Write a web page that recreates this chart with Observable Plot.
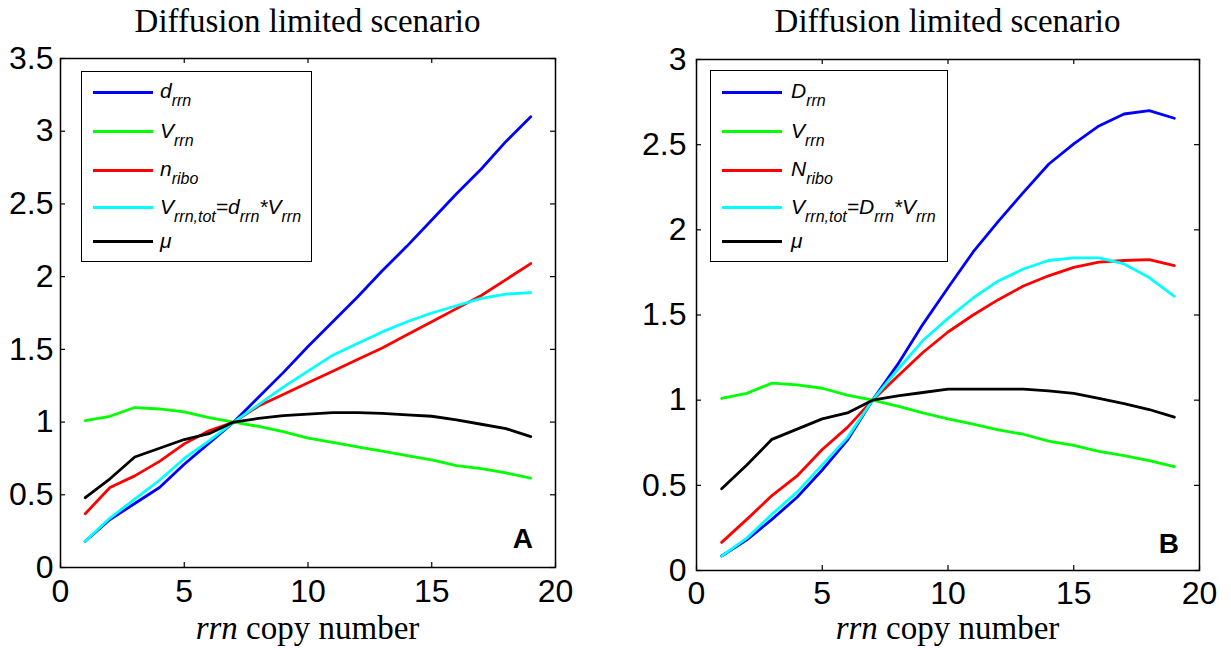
<!DOCTYPE html>
<html>
<head>
<meta charset="utf-8">
<script src="https://cdn.jsdelivr.net/npm/d3@7"></script>
<script src="https://cdn.jsdelivr.net/npm/@observablehq/plot@0.6"></script>
<style>
  body { margin: 0; background: #fff; }
  #fig { position: relative; width: 1231px; height: 650px; overflow: hidden; background: #fff; }
  .panel { position: absolute; top: 0; }
  .title, .xlabel {
    position: absolute; text-align: center; color: #000; white-space: nowrap;
    font-family: "Liberation Serif", "Times New Roman", serif; font-size: 33px; line-height: 33px;
  }
  .legend { position: absolute; border: 1.5px solid #000; background: #fff; box-sizing: border-box; }
  .swatch { position: absolute; height: 0; border-top: 3px solid; }
  .entry {
    position: absolute; white-space: nowrap; color: #000;
    font-family: "Liberation Sans", Arial, sans-serif; font-style: italic; font-size: 21px; line-height: 21px;
  }
  .entry .sub { font-size: 16px; vertical-align: -8px; line-height: 0; }
  .tag {
    position: absolute; color: #000;
    font-family: "Liberation Sans", Arial, sans-serif; font-weight: bold; font-size: 28px; line-height: 28px;
  }
</style>
</head>
<body>
<div id="fig"></div>
<script>
// rrn copy number (x) shared by both panels
const copyNumber = [1, 2, 3, 4, 5, 6, 7, 8, 9, 10, 11, 12, 13, 14, 15, 16, 17, 18, 19];
const xTicks = [0, 5, 10, 15, 20];

// Panel A series
const dRrnA  = [0.18, 0.33, 0.44, 0.55, 0.71, 0.855, 1.0, 1.17, 1.34, 1.52, 1.69, 1.86, 2.04, 2.21, 2.39, 2.57, 2.74, 2.93, 3.10];
const vRrnA  = [1.01, 1.04, 1.10, 1.09, 1.07, 1.03, 1.0, 0.97, 0.935, 0.89, 0.86, 0.83, 0.80, 0.77, 0.74, 0.70, 0.68, 0.65, 0.615];
const nRiboA = [0.37, 0.55, 0.63, 0.73, 0.85, 0.94, 1.0, 1.11, 1.19, 1.27, 1.35, 1.43, 1.51, 1.60, 1.69, 1.78, 1.87, 1.98, 2.09];
const vTotA  = [0.18, 0.34, 0.47, 0.60, 0.75, 0.87, 1.0, 1.12, 1.24, 1.35, 1.46, 1.54, 1.62, 1.69, 1.75, 1.80, 1.85, 1.88, 1.89];
const muA    = [0.48, 0.61, 0.76, 0.82, 0.88, 0.92, 1.0, 1.025, 1.045, 1.055, 1.065, 1.065, 1.06, 1.05, 1.04, 1.015, 0.985, 0.955, 0.90];
const yTicksA = [0, 0.5, 1, 1.5, 2, 2.5, 3, 3.5];

// Panel B series
const dRrnB  = [0.085, 0.18, 0.30, 0.43, 0.59, 0.765, 1.0, 1.21, 1.445, 1.66, 1.87, 2.05, 2.22, 2.385, 2.505, 2.61, 2.68, 2.70, 2.655];
const vRrnB  = [1.01, 1.04, 1.10, 1.09, 1.07, 1.03, 1.0, 0.965, 0.925, 0.89, 0.86, 0.825, 0.80, 0.76, 0.735, 0.70, 0.675, 0.645, 0.61];
const nRiboB = [0.165, 0.30, 0.44, 0.555, 0.71, 0.84, 1.0, 1.14, 1.28, 1.40, 1.50, 1.59, 1.67, 1.73, 1.78, 1.81, 1.82, 1.825, 1.79];
const vTotB  = [0.085, 0.19, 0.33, 0.46, 0.62, 0.78, 1.0, 1.18, 1.35, 1.48, 1.60, 1.70, 1.77, 1.82, 1.835, 1.835, 1.80, 1.72, 1.61];
const muB    = [0.48, 0.62, 0.77, 0.83, 0.89, 0.925, 1.0, 1.025, 1.045, 1.065, 1.065, 1.065, 1.065, 1.055, 1.04, 1.01, 0.98, 0.945, 0.90];
const yTicksB = [0, 0.5, 1, 1.5, 2, 2.5, 3];

// Series keys and colours (same order in both panels)
const seriesKeys = ["d", "V", "n", "Vtot", "mu"];
const seriesColors = ["#0000ff", "#00ff00", "#ff0000", "#00ffff", "#000000"];

// Legend labels: list of [base, subscript] runs
const legendA = [
  [["d", "rrn"]],
  [["V", "rrn"]],
  [["n", "ribo"]],
  [["V", "rrn,tot"], ["=d", "rrn"], ["*V", "rrn"]],
  [["\u03bc", ""]]
];
const legendB = [
  [["D", "rrn"]],
  [["V", "rrn"]],
  [["N", "ribo"]],
  [["V", "rrn,tot"], ["=D", "rrn"], ["*V", "rrn"]],
  [["\u03bc", ""]]
];

const titleText = "Diffusion limited scenario";
const fig = document.getElementById("fig");

function drawPanel(cfg) {
  const rows = cfg.series.flatMap((vals, s) =>
    vals.map((v, i) => ({copies: copyNumber[i], value: v, key: seriesKeys[s]})));
  const innerW = cfg.width - cfg.ml - cfg.mr;
  const innerH = 650 - cfg.mt - cfg.mb;
  const fmt = d => String(d);
  const chart = Plot.plot({
    width: cfg.width,
    height: 650,
    marginLeft: cfg.ml, marginRight: cfg.mr, marginTop: cfg.mt, marginBottom: cfg.mb,
    x: {domain: [0, 20], label: null},
    y: {domain: [0, cfg.yMax], label: null},
    color: {domain: seriesKeys, range: seriesColors},
    style: {background: "transparent", fontFamily: "'Liberation Sans', Arial, sans-serif", color: "#000"},
    marks: [
      // inward ticks on all four sides
      Plot.ruleX(xTicks, {insetTop: innerH - 5, stroke: "#000", strokeWidth: 1.2}),
      Plot.ruleX(xTicks, {insetBottom: innerH - 5, stroke: "#000", strokeWidth: 1.2}),
      Plot.ruleY(cfg.yTicks, {insetRight: innerW - 5, stroke: "#000", strokeWidth: 1.2}),
      Plot.ruleY(cfg.yTicks, {insetLeft: innerW - 5, stroke: "#000", strokeWidth: 1.2}),
      Plot.axisX({ticks: xTicks, tickSize: 0, tickPadding: cfg.xPad, fontSize: 32, tickFormat: fmt, label: null}),
      Plot.axisY({ticks: cfg.yTicks, tickSize: 0, tickPadding: cfg.yPad, fontSize: 32, tickFormat: fmt, label: null}),
      Plot.line(rows, {x: "copies", y: "value", z: "key", stroke: "key", strokeWidth: 2.8}),
      Plot.frame({stroke: "#000", strokeWidth: 1.5})
    ]
  });
  chart.classList.add("panel");
  chart.style.left = cfg.left + "px";
  fig.appendChild(chart);

  // title and x label, centred over the plotting area
  const cx = cfg.left + cfg.ml + innerW / 2;
  const title = document.createElement("div");
  title.className = "title";
  title.style.left = (cx - 250) + "px";
  title.style.width = "500px";
  title.style.top = "5px";
  title.textContent = titleText;
  fig.appendChild(title);

  const xl = document.createElement("div");
  xl.className = "xlabel";
  xl.style.left = (cx - 250) + "px";
  xl.style.width = "500px";
  xl.style.top = "612px";
  xl.innerHTML = "<i>rrn</i> copy number";
  fig.appendChild(xl);

  // legend box
  const box = document.createElement("div");
  box.className = "legend";
  Object.assign(box.style, {left: cfg.legend.left + "px", top: cfg.legend.top + "px",
    width: cfg.legend.width + "px", height: cfg.legend.height + "px"});
  fig.appendChild(box);
  cfg.legendLabels.forEach((runs, i) => {
    const ly = cfg.legend.rows[i];
    const sw = document.createElement("div");
    sw.className = "swatch";
    Object.assign(sw.style, {left: cfg.legend.swatchLeft + "px", top: (ly - 1.5) + "px",
      width: "60px", borderTopColor: seriesColors[i]});
    fig.appendChild(sw);
    const t = document.createElement("div");
    t.className = "entry";
    Object.assign(t.style, {left: cfg.legend.textLeft + "px", top: (ly - 11.8) + "px"});
    runs.forEach(([base, sub]) => {
      const b = document.createElement("span");
      b.textContent = base;
      t.appendChild(b);
      if (sub) {
        const s = document.createElement("span");
        s.className = "sub";
        s.textContent = sub;
        t.appendChild(s);
      }
    });
    fig.appendChild(t);
  });

  // panel tag
  const tag = document.createElement("div");
  tag.className = "tag";
  tag.textContent = cfg.tag;
  tag.style.right = cfg.tagRight + "px";
  tag.style.top = cfg.tagTop + "px";
  fig.appendChild(tag);
}

drawPanel({
  series: [dRrnA, vRrnA, nRiboA, vTotA, muA],
  yMax: 3.5, yTicks: yTicksA,
  left: 0, width: 615, ml: 60, mr: 60, mt: 58, mb: 83,
  xPad: 12, yPad: 7,
  legendLabels: legendA,
  legend: {left: 81, top: 71, width: 231, height: 191, swatchLeft: 93, textLeft: 160,
    rows: [92, 131.5, 170, 207.5, 241.5]},
  tag: "A", tagRight: 1231 - 533, tagTop: 525
});

drawPanel({
  series: [dRrnB, vRrnB, nRiboB, vTotB, muB],
  yMax: 3, yTicks: yTicksB,
  left: 615, width: 616, ml: 81, mr: 32, mt: 59, mb: 80,
  xPad: 11, yPad: 10,
  legendLabels: legendB,
  legend: {left: 710, top: 70, width: 238, height: 192, swatchLeft: 722, textLeft: 791,
    rows: [92, 131.5, 170, 207.5, 241.5]},
  tag: "B", tagRight: 1231 - 1179, tagTop: 530
});
</script>
</body>
</html>
